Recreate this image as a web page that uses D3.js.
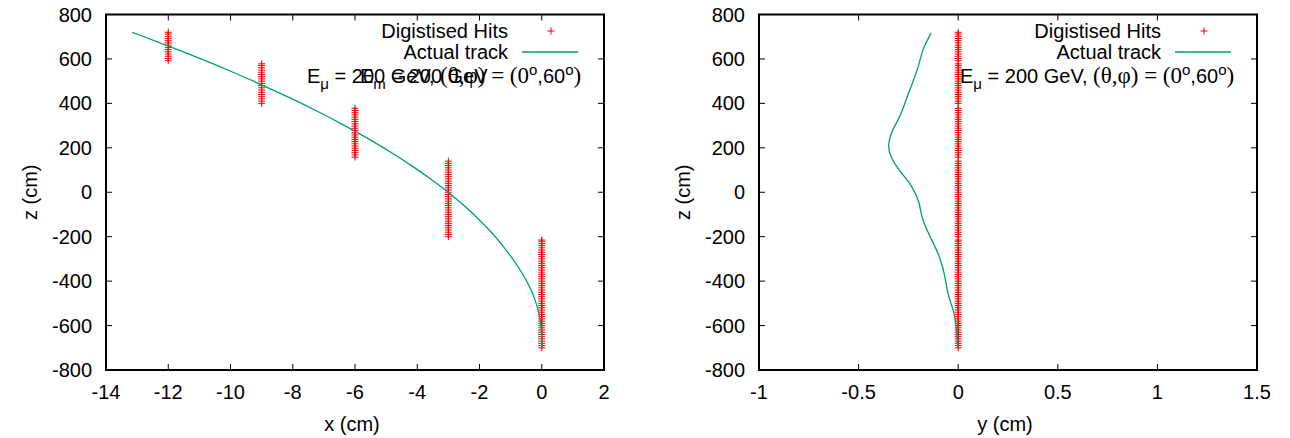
<!DOCTYPE html>
<html>
<head>
<meta charset="utf-8">
<script src="https://cdn.jsdelivr.net/npm/d3@7"></script>
<style>
  html, body { margin: 0; padding: 0; background: #fff; }
  svg { display: block; }
  text { font-family: "Liberation Sans", Arial, sans-serif; fill: #000; }
  .serif { font-family: "Liberation Serif", "Times New Roman", serif; }
</style>
</head>
<body>
<svg id="chart" width="1290" height="438"></svg>
<script>
// ---------------- data ----------------
const xTicks = [-14, -12, -10, -8, -6, -4, -2, 0, 2];
const yTicksRight = [-1, -0.5, 0, 0.5, 1, 1.5];
const zTicks = [-800, -600, -400, -200, 0, 200, 400, 600, 800];

// digitised hits: x strip position and the z layers hit in that strip
const hitStripX = [0, -3, -6, -9, -12];
const hitZ_x0 = [-700,-690,-680,-670,-660,-650,-640,-630,-620,-610,-600,-590,-580,-570,-560,-550,-540,-530,-520,-510,-500,-490,-480,-470,-460,-450,-440,-430,-420,-410,-400,-390,-380,-370,-360,-350,-340,-330,-320,-310,-300,-290,-280,-270,-260,-250,-240,-230,-220,-215];
const hitZ_xm3 = [-200,-190,-180,-170,-160,-150,-140,-130,-120,-110,-100,-90,-80,-70,-60,-50,-40,-30,-20,-10,0,10,20,30,40,50,60,70,80,90,100,110,120,130,140];
const hitZ_xm6 = [158,168,178,188,198,208,218,228,238,248,258,268,278,288,298,308,318,328,338,348,358,368,378];
const hitZ_xm9 = [400,410,420,430,440,450,460,470,480,490,500,510,520,530,540,550,560,570,578];
const hitZ_xm12 = [592,602,612,622,632,642,652,662,672,682,692,702,712,720];
const hitY = 0; // all hits at y strip 0

// actual track, x-z view
const trackXZ_z = [720, 660, 600, 540, 480, 420, 360, 300, 240, 180, 120, 60, 0, -60, -120, -180, -240, -300, -360, -420, -480, -540, -600, -650, -700];
const trackXZ_x = [-13.16, -12.02, -10.94, -9.91, -8.94, -8.01, -7.14, -6.32, -5.56, -4.84, -4.18, -3.56, -3.0, -2.49, -2.03, -1.61, -1.25, -0.93, -0.64, -0.40, -0.22, -0.09, -0.02, 0, 0];

// actual track, y-z view
const trackYZ_z = [717, 639, 579, 504, 429, 339, 279, 211, 159, 91, 31, -51, -111, -201, -291, -381, -456, -531, -576, -689, -700];
const trackYZ_y = [-0.136, -0.182, -0.194, -0.224, -0.257, -0.291, -0.333, -0.355, -0.341, -0.291, -0.232, -0.191, -0.187, -0.141, -0.090, -0.065, -0.054, -0.024, -0.012, -0.004, 0];

const legendLabels = ["Digistised Hits", "Actual track"];
const axisTitles = {x: "x (cm)", y: "y (cm)", z: "z (cm)"};

const hitColor = "#ff0000";
const trackColor = "#009e73";

// ---------------- drawing ----------------
const svg = d3.select("#chart");
const plotTop = 14.5, plotBottom = 370;
const FS = 20;

function fmt(v) { return String(v); }

function panel(opts) {
  const g = svg.append("g");
  const xs = d3.scaleLinear().domain(opts.xDomain).range([opts.left, opts.right]);
  const zs = d3.scaleLinear().domain([-800, 800]).range([plotBottom, plotTop]);

  // ticks (inward, mirrored)
  const tl = 6;
  opts.xTicks.forEach(t => {
    const px = xs(t);
    g.append("line").attr("x1", px).attr("x2", px).attr("y1", plotBottom).attr("y2", plotBottom - tl)
      .attr("stroke", "#000").attr("stroke-width", 1);
    g.append("line").attr("x1", px).attr("x2", px).attr("y1", plotTop).attr("y2", plotTop + tl)
      .attr("stroke", "#000").attr("stroke-width", 1);
    g.append("text").attr("x", px).attr("y", 399).attr("text-anchor", "middle")
      .attr("font-size", FS).text(fmt(t));
  });
  zTicks.forEach(t => {
    const py = zs(t);
    g.append("line").attr("x1", opts.left).attr("x2", opts.left + tl).attr("y1", py).attr("y2", py)
      .attr("stroke", "#000").attr("stroke-width", 1);
    g.append("line").attr("x1", opts.right).attr("x2", opts.right - tl).attr("y1", py).attr("y2", py)
      .attr("stroke", "#000").attr("stroke-width", 1);
    g.append("text").attr("x", opts.left - 14).attr("y", py + 7).attr("text-anchor", "end")
      .attr("font-size", FS).text(fmt(t));
  });

  // axis titles
  g.append("text").attr("x", (opts.left + opts.right) / 2 - 3).attr("y", 431).attr("text-anchor", "middle")
    .attr("font-size", FS).text(opts.xTitle);
  g.append("text").attr("transform", `translate(${opts.left - 69},${zs(0)}) rotate(-90)`)
    .attr("text-anchor", "middle").attr("font-size", FS).text(axisTitles.z);

  const plus = "M-3.5,0H3.5M0,-3.5V3.5";
  // hits
  opts.hits.forEach(h => {
    g.append("path").attr("d", plus).attr("transform", `translate(${xs(h[0])},${zs(h[1])})`)
      .attr("fill", "none").attr("stroke", hitColor).attr("stroke-width", 1);
  });

  // track
  const line = d3.line().x(d => xs(d[0])).y(d => zs(d[1])).curve(d3.curveBasis);
  g.append("path").datum(opts.track).attr("d", line).attr("fill", "none")
    .attr("stroke", trackColor).attr("stroke-width", 1.3);

  // legend
  const R = opts.right;
  g.append("text").attr("x", R - 96).attr("y", 38).attr("text-anchor", "end").attr("font-size", FS).text(legendLabels[0]);
  g.append("path").attr("d", plus).attr("transform", `translate(${R - 53},${31})`)
    .attr("fill", "none").attr("stroke", hitColor).attr("stroke-width", 1);
  g.append("text").attr("x", R - 96).attr("y", 59).attr("text-anchor", "end").attr("font-size", FS).text(legendLabels[1]);
  g.append("line").attr("x1", R - 82).attr("x2", R - 26).attr("y1", 52).attr("y2", 52)
    .attr("stroke", trackColor).attr("stroke-width", 1.3);

  // annotation
  const ann = g.append("text").attr("x", R - 297).attr("y", 83).attr("font-size", FS);
  ann.append("tspan").text("E");
  ann.append("tspan").attr("font-size", 15).attr("dy", 6).text("\u03bc");
  ann.append("tspan").attr("dy", -6).text(" = 200 GeV, ");
  ann.append("tspan").attr("class", "serif").attr("font-size", 23).text("(\u03b8,\u03c6) = (0");
  ann.append("tspan").attr("font-size", 15).attr("dy", -8).text("o");
  ann.append("tspan").attr("dy", 8).text(",60");
  ann.append("tspan").attr("font-size", 15).attr("dy", -8).text("o");
  ann.append("tspan").attr("class", "serif").attr("font-size", 23).attr("dy", 8).text(")");

  if (opts.extraAnn) {
    const a2 = g.append("text").attr("x", R - 244).attr("y", 83).attr("font-size", FS);
    a2.append("tspan").text("E");
    a2.append("tspan").attr("font-size", 15).attr("dy", 6).text("m");
    a2.append("tspan").attr("dy", -6).text(" = 200 GeV");
  }

  // frame
  g.append("rect").attr("x", opts.left).attr("y", plotTop)
    .attr("width", opts.right - opts.left).attr("height", plotBottom - plotTop)
    .attr("fill", "none").attr("stroke", "#000").attr("stroke-width", 2);
}

const allHitZ = [hitZ_x0, hitZ_xm3, hitZ_xm6, hitZ_xm9, hitZ_xm12];
const hitsXZ = [];
const hitsYZ = [];
allHitZ.forEach((arr, i) => arr.forEach(z => { hitsXZ.push([hitStripX[i], z]); hitsYZ.push([hitY, z]); }));

panel({
  left: 106, right: 604, xDomain: [-14, 2], xTicks: xTicks, xTitle: axisTitles.x,
  hits: hitsXZ, track: trackXZ_x.map((x, i) => [x, trackXZ_z[i]]), extraAnn: true
});
panel({
  left: 759, right: 1257, xDomain: [-1, 1.5], xTicks: yTicksRight, xTitle: axisTitles.y,
  hits: hitsYZ, track: trackYZ_y.map((y, i) => [y, trackYZ_z[i]]), extraAnn: false
});
</script>
</body>
</html>
